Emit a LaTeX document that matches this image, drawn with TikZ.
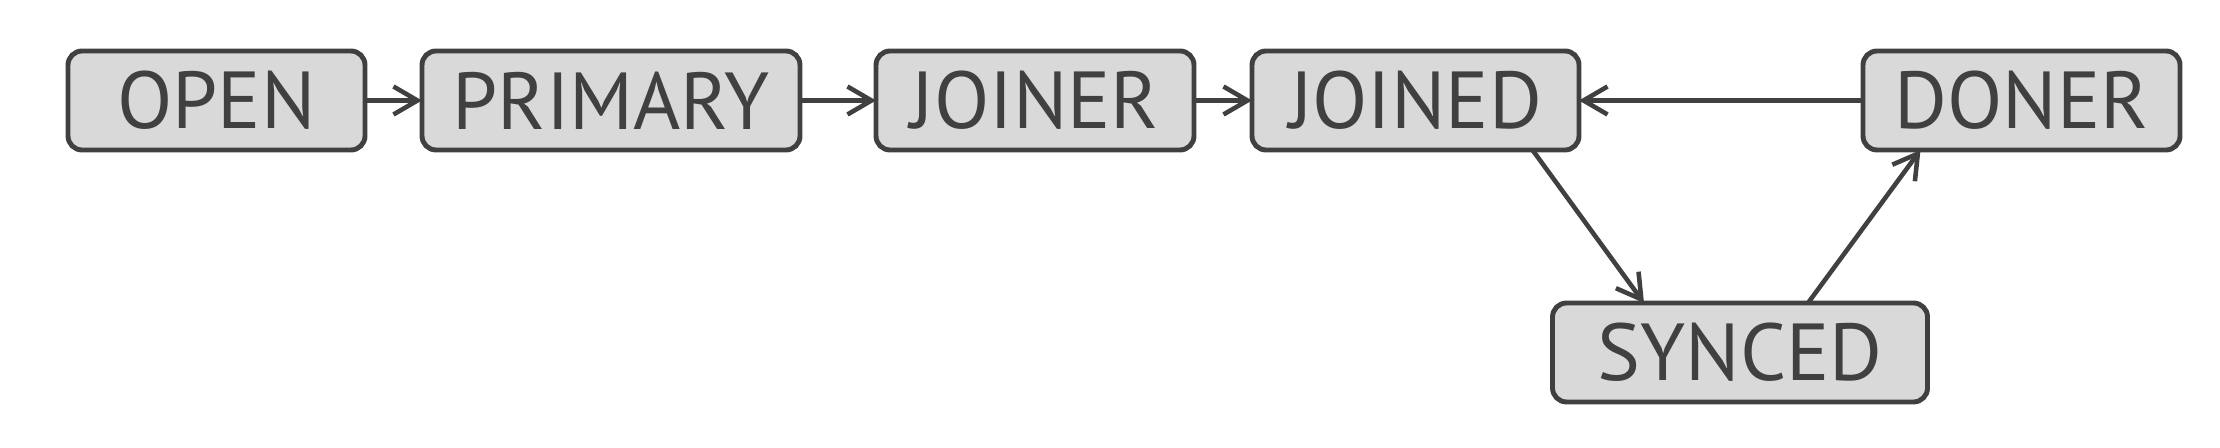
\documentclass[tikz,border=0pt]{standalone}
\usepackage{fontspec}
\setmainfont{PT Sans}
\usetikzlibrary{positioning,arrows.meta}
\definecolor{edge}{RGB}{64,64,64}
\definecolor{boxfill}{RGB}{217,217,217}

\begin{document}
\begin{tikzpicture}[
  statebox/.style={draw=edge, line width=1.4pt, rounded corners=0.14cm, fill=boxfill, text=edge,
    minimum height=0.99cm, inner sep=0pt, outer sep=0pt, font=\fontsize{23}{26}\selectfont},
  arrow/.style={-{Straight Barb[length=2.4mm, width=2.8mm]}, line width=1.3pt, draw=edge}
]
\useasboundingbox (0,0) rectangle (22.20,-4.48);
\node[statebox, minimum width=2.97cm] (open) at (2.165,-1.005) {OPEN};
\node[statebox, minimum width=3.78cm, right=0.57cm of open] (primary) {PRIMARY};
\node[statebox, minimum width=3.18cm, right=0.76cm of primary] (joiner) {JOINER};
\node[statebox, minimum width=3.27cm, right=0.58cm of joiner] (joined) {JOINED};
\node[statebox, minimum width=3.17cm, right=2.84cm of joined] (doner) {DONER};
\node[statebox, minimum width=3.75cm] (synced) at (17.40,-3.525) {SYNCED};
\draw[arrow] (open) -- (primary);
\draw[arrow] (primary) -- (joiner);
\draw[arrow] (joiner) -- (joined);
\draw[arrow] (doner) -- (joined);
\draw[arrow] ([xshift=1.17cm]joined.south) -- ([xshift=-0.96cm]synced.north);
\draw[arrow] ([xshift=0.68cm]synced.north) -- ([xshift=-1.01cm]doner.south);
\end{tikzpicture}
\end{document}
